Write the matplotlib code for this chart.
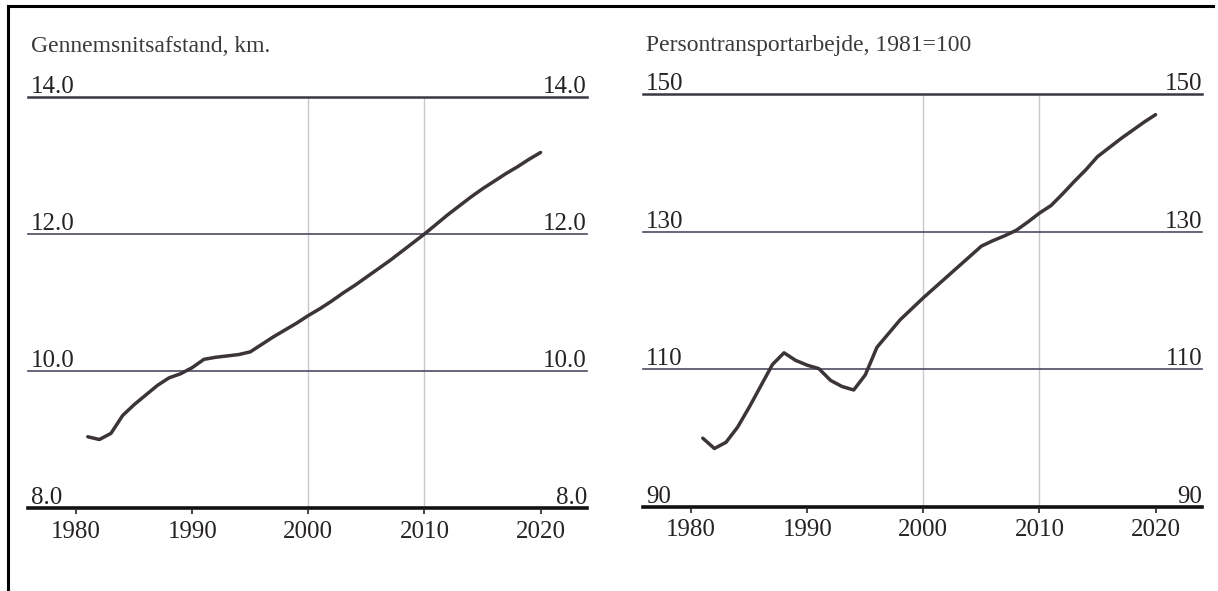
import matplotlib.pyplot as plt
from matplotlib.lines import Line2D

# Data
years = list(range(1981, 2021))

# Gennemsnitsafstand, km
distance_km = [9.04, 9.00, 9.09, 9.35, 9.51, 9.65, 9.79, 9.90, 9.96, 10.05,
               10.17, 10.20, 10.22, 10.24, 10.28, 10.39, 10.50, 10.60, 10.70, 10.81,
               10.91, 11.02, 11.14, 11.25, 11.37, 11.49, 11.61, 11.74, 11.87, 12.00,
               12.14, 12.28, 12.41, 12.54, 12.66, 12.77, 12.88, 12.98, 13.09, 13.19]

# Persontransportarbejde, 1981=100
transport_index = [100.0, 98.5, 99.4, 101.6, 104.5, 107.6, 110.7, 112.4, 111.3, 110.6,
                   110.1, 108.4, 107.5, 107.0, 109.2, 113.2, 115.2, 117.2, 118.8, 120.4,
                   121.9, 123.4, 124.9, 126.4, 127.9, 128.7, 129.4, 130.2, 131.4, 132.7,
                   133.8, 135.5, 137.3, 139.0, 140.9, 142.2, 143.5, 144.7, 145.9, 147.0]

left_levels = [8.0, 10.0, 12.0, 14.0]
left_labels = ['8.0', '10.0', '12.0', '14.0']
right_levels = [90, 110, 130, 150]
right_labels = ['90', '110', '130', '150']
year_ticks = [1980, 1990, 2000, 2010, 2020]

plt.rcParams['font.family'] = ['Liberation Serif', 'DejaVu Serif']
FS = 18
INK = '#262226'

fig = plt.figure(figsize=(12.18, 5.91), dpi=100)

# page frame (top and left edge of the scan)
fig.add_artist(Line2D([8 / 1218, 8 / 1218], [0, 1 - 6 / 591], transform=fig.transFigure,
                      color='black', lw=2.2))
fig.add_artist(Line2D([8 / 1218, 1213 / 1218], [1 - 6 / 591, 1 - 6 / 591],
                      transform=fig.transFigure, color='black', lw=2.2))


def draw_panel(ax, x, y, levels, labels):
    ax.set_xlim(1975.85, 2024.0)
    ax.set_ylim(levels[0], levels[-1])
    for s in ax.spines.values():
        s.set_visible(False)
    ax.set_yticks([])
    ax.set_xticks(year_ticks)
    ax.set_xticklabels([str(v) for v in year_ticks], fontsize=FS, color=INK)
    ax.tick_params(axis='x', direction='out', length=4, width=1.2, pad=5, colors=INK)

    for xv in (2000, 2010):
        ax.axvline(xv, color='#c8c8cc', lw=1.0, zorder=0)

    styles = [(2.6, '#111111'), (1.2, '#4e4a62'), (1.2, '#4e4a62'), (1.8, '#3a3644')]
    for lv, lab, (lw, col) in zip(levels, labels, styles):
        ax.axhline(lv, color=col, lw=lw, clip_on=False, zorder=1)
        ax.annotate(lab, xy=(0, lv), xycoords=('axes fraction', 'data'),
                    xytext=(2, 3), textcoords='offset points',
                    ha='left', va='baseline', fontsize=FS, color=INK)
        ax.annotate(lab, xy=(1, lv), xycoords=('axes fraction', 'data'),
                    xytext=(0, 3), textcoords='offset points',
                    ha='right', va='baseline', fontsize=FS, color=INK)

    ax.plot(x, y, color='#3b3438', lw=2.5, solid_joinstyle='round',
            solid_capstyle='round', zorder=3)


ax1 = fig.add_axes([28 / 1218, 1 - 508 / 591, 559 / 1218, 411 / 591])
draw_panel(ax1, years, distance_km, left_levels, left_labels)

ax2 = fig.add_axes([643 / 1218, 1 - 507 / 591, 559 / 1218, 413 / 591])
draw_panel(ax2, years, transport_index, right_levels, right_labels)

fig.text(31 / 1218, 1 - 46 / 591, 'Gennemsnitsafstand, km.', fontsize=17,
         color='#3a3a3a', ha='left', va='center')
fig.text(646 / 1218, 1 - 46 / 591, 'Persontransportarbejde, 1981=100', fontsize=17,
         color='#3a3a3a', ha='left', va='center')

plt.savefig('out.png', dpi=100)
